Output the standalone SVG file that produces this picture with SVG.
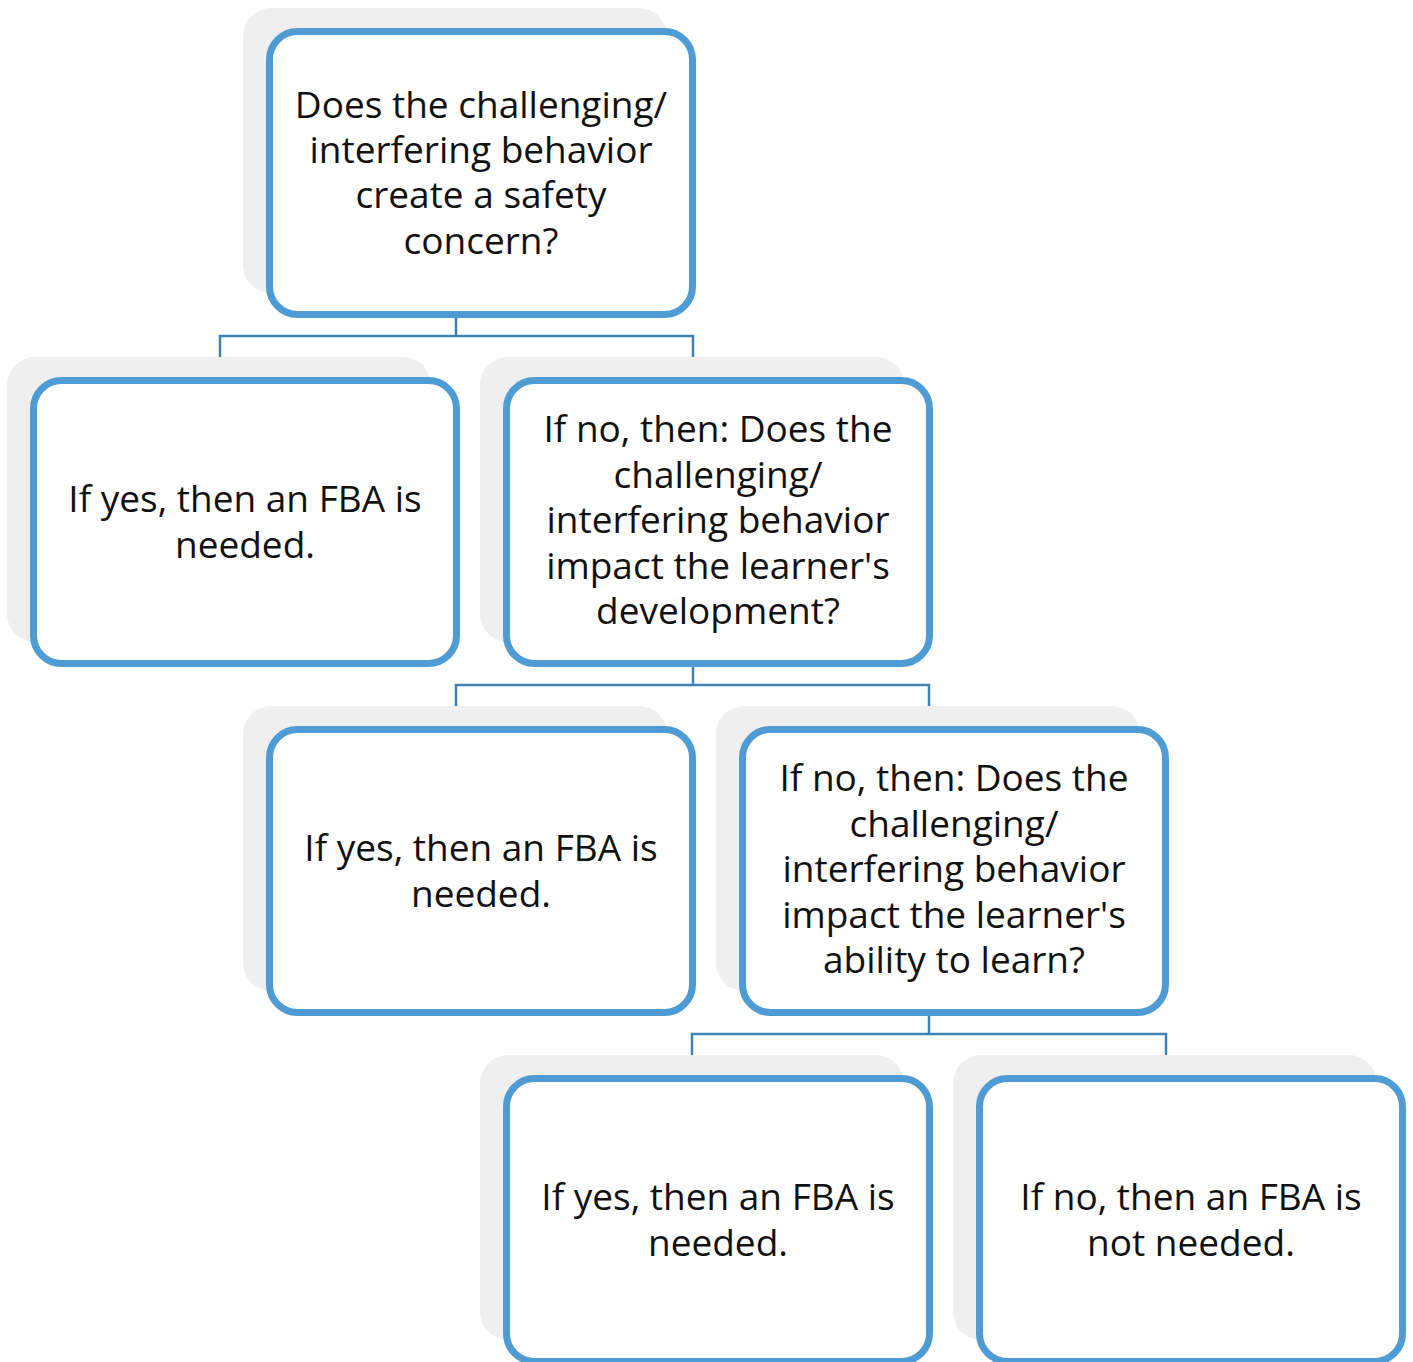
<svg xmlns="http://www.w3.org/2000/svg" width="1413" height="1362" viewBox="0 0 1413 1362">
<style>
.sh{fill:#eeefee}
.bx{fill:#ffffff;stroke:#4e9cd3;stroke-width:7}
.t{font-family:"Open Sans","Liberation Sans",sans-serif;font-size:37px;fill:#111111;text-anchor:middle}
.c{fill:none;stroke:#3f82b5;stroke-width:2.5}
</style>
<rect width="1413" height="1362" fill="#ffffff"/>
<g id="connectors">
<path class="c" d="M456,318 V336 M220,357 V336 H693 V357"/>
<path class="c" d="M693,667 V685 M456,706 V685 H929 V706"/>
<path class="c" d="M929,1016 V1034 M692,1055 V1034 H1166 V1055"/>
</g>
<g id="n1">
<rect class="sh" x="243" y="8" width="424" height="285" rx="28"/>
<rect class="bx" x="269.5" y="31.5" width="423" height="283" rx="28"/>
<text class="t"><tspan x="481" y="118">Does the challenging/</tspan><tspan x="481" y="163">interfering behavior</tspan><tspan x="481" y="208">create a safety</tspan><tspan x="481" y="254">concern?</tspan></text>
</g>
<g id="n2">
<rect class="sh" x="7" y="357" width="424" height="285" rx="28"/>
<rect class="bx" x="33.5" y="380.5" width="423" height="283" rx="28"/>
<text class="t"><tspan x="245" y="512">If yes, then an FBA is</tspan><tspan x="245" y="558">needed.</tspan></text>
</g>
<g id="n3">
<rect class="sh" x="480" y="357" width="424" height="285" rx="28"/>
<rect class="bx" x="506.5" y="380.5" width="423" height="283" rx="28"/>
<text class="t"><tspan x="718" y="442">If no, then: Does the</tspan><tspan x="718" y="488">challenging/</tspan><tspan x="718" y="533">interfering behavior</tspan><tspan x="718" y="579">impact the learner's</tspan><tspan x="718" y="624">development?</tspan></text>
</g>
<g id="n4">
<rect class="sh" x="243" y="706" width="424" height="285" rx="28"/>
<rect class="bx" x="269.5" y="729.5" width="423" height="283" rx="28"/>
<text class="t"><tspan x="481" y="861">If yes, then an FBA is</tspan><tspan x="481" y="907">needed.</tspan></text>
</g>
<g id="n5">
<rect class="sh" x="716" y="706" width="424" height="285" rx="28"/>
<rect class="bx" x="742.5" y="729.5" width="423" height="283" rx="28"/>
<text class="t"><tspan x="954" y="791">If no, then: Does the</tspan><tspan x="954" y="837">challenging/</tspan><tspan x="954" y="882">interfering behavior</tspan><tspan x="954" y="928">impact the learner's</tspan><tspan x="954" y="973">ability to learn?</tspan></text>
</g>
<g id="n6">
<rect class="sh" x="480" y="1055" width="424" height="285" rx="28"/>
<rect class="bx" x="506.5" y="1078.5" width="423" height="283" rx="28"/>
<text class="t"><tspan x="718" y="1210">If yes, then an FBA is</tspan><tspan x="718" y="1256">needed.</tspan></text>
</g>
<g id="n7">
<rect class="sh" x="953" y="1055" width="424" height="285" rx="28"/>
<rect class="bx" x="979.5" y="1078.5" width="423" height="283" rx="28"/>
<text class="t"><tspan x="1191" y="1210">If no, then an FBA is</tspan><tspan x="1191" y="1256">not needed.</tspan></text>
</g>
</svg>
